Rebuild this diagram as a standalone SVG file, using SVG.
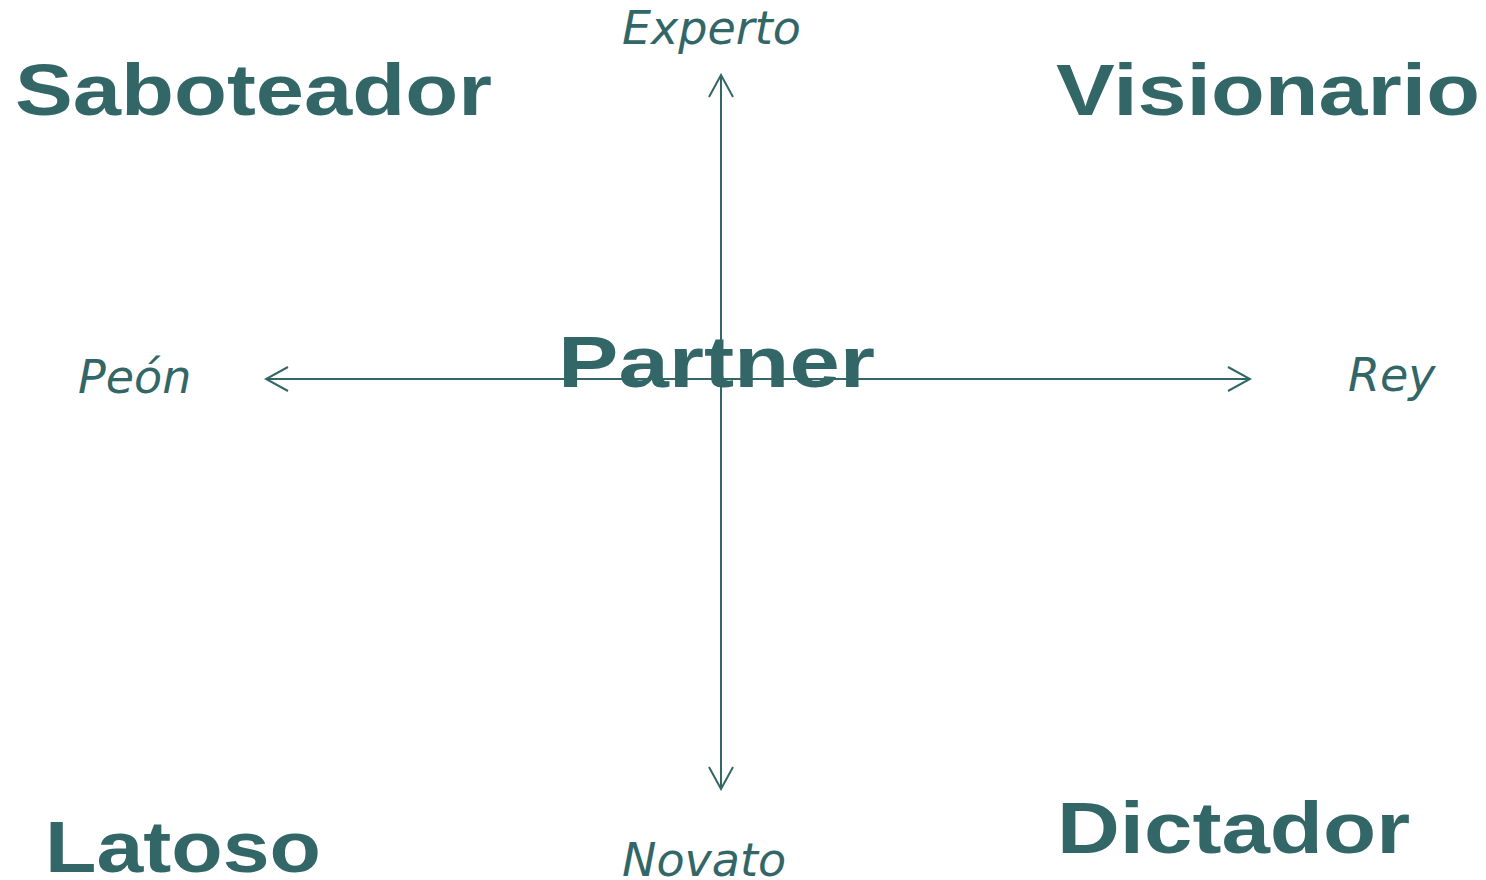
<svg xmlns="http://www.w3.org/2000/svg" width="1486" height="880" viewBox="0 0 1486 880">
<style>
.b{font-family:"Liberation Sans",Arial,sans-serif;font-weight:bold;font-size:72px;fill:#336666}
.i{font-family:"DejaVu Sans",sans-serif;font-style:italic;font-size:46px;fill:#336666}
.ax{stroke:#336666;stroke-width:2;fill:none}
</style>
<defs>
<marker id="ah" viewBox="0 0 26 28" refX="24" refY="14" markerWidth="26" markerHeight="28" markerUnits="userSpaceOnUse" orient="auto-start-reverse">
<path d="M2 2 L24 14 L2 26" fill="none" stroke="#336666" stroke-width="2"/>
</marker>
</defs>
<g id="connectors">
<line class="ax" x1="721" y1="400" x2="721" y2="75" marker-end="url(#ah)"/>
<line class="ax" x1="721" y1="360" x2="721" y2="789" marker-end="url(#ah)"/>
<line class="ax" x1="740" y1="379" x2="266" y2="379" marker-end="url(#ah)"/>
<line class="ax" x1="700" y1="379" x2="1250" y2="379" marker-end="url(#ah)"/>
</g>
<g id="experto"><text class="i" x="622" y="44">Experto</text></g>
<g id="novato"><text class="i" x="622" y="876">Novato</text></g>
<g id="peon"><text class="i" x="78" y="393">Peón</text></g>
<g id="rey"><text class="i" x="1348" y="391">Rey</text></g>
<g id="saboteador"><text class="b" x="15" y="115" textLength="477" lengthAdjust="spacingAndGlyphs">Saboteador</text></g>
<g id="visionario"><text class="b" x="1056" y="115" textLength="424" lengthAdjust="spacingAndGlyphs">Visionario</text></g>
<g id="latoso"><text class="b" x="45" y="872" font-size="74" textLength="276" lengthAdjust="spacingAndGlyphs">Latoso</text></g>
<g id="dictador"><text class="b" x="1057" y="853" textLength="353" lengthAdjust="spacingAndGlyphs">Dictador</text></g>
<g id="partner"><text class="b" x="558" y="387" font-size="73" textLength="317" lengthAdjust="spacingAndGlyphs">Partner</text></g>
</svg>
